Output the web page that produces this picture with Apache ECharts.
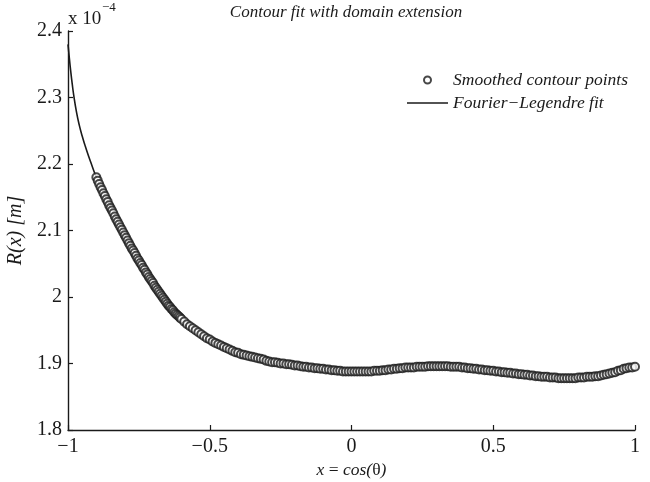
<!DOCTYPE html>
<html>
<head>
<meta charset="utf-8">
<script src="https://cdn.jsdelivr.net/npm/echarts@6/dist/echarts.min.js"></script>
<style>
  html, body { margin: 0; padding: 0; background: #fff; }
  #chart { width: 650px; height: 482px; }
</style>
</head>
<body>
<div id="chart"></div>
<script>
// values in units of 1e-4 m
const contourX = [
  -0.900, -0.895, -0.890, -0.885, -0.880, -0.875, -0.870, -0.865, -0.860, -0.855,
  -0.850, -0.845, -0.840, -0.835, -0.830, -0.825, -0.820, -0.815, -0.810, -0.805,
  -0.800, -0.795, -0.790, -0.785, -0.780, -0.775, -0.770, -0.765, -0.760, -0.755,
  -0.750, -0.745, -0.740, -0.735, -0.730, -0.725, -0.720, -0.715, -0.710, -0.705,
  -0.700, -0.695, -0.690, -0.685, -0.680, -0.675, -0.670, -0.665, -0.660, -0.655,
  -0.650, -0.645, -0.640, -0.635, -0.630, -0.625, -0.620, -0.615, -0.610, -0.605,
  -0.60, -0.59, -0.58, -0.57, -0.56, -0.55, -0.54, -0.53, -0.52, -0.51,
  -0.50, -0.49, -0.48, -0.47, -0.46, -0.45, -0.44, -0.43, -0.42, -0.41,
  -0.40, -0.39, -0.38, -0.37, -0.36, -0.35, -0.34, -0.33, -0.32, -0.31,
  -0.30, -0.29, -0.28, -0.27, -0.26, -0.25, -0.24, -0.23, -0.22, -0.21,
  -0.20, -0.19, -0.18, -0.17, -0.16, -0.15, -0.14, -0.13, -0.12, -0.11,
  -0.10, -0.09, -0.08, -0.07, -0.06, -0.05, -0.04, -0.03, -0.02, -0.01,
  0.00, 0.01, 0.02, 0.03, 0.04, 0.05, 0.06, 0.07, 0.08, 0.09,
  0.10, 0.11, 0.12, 0.13, 0.14, 0.15, 0.16, 0.17, 0.18, 0.19,
  0.20, 0.21, 0.22, 0.23, 0.24, 0.25, 0.26, 0.27, 0.28, 0.29,
  0.30, 0.31, 0.32, 0.33, 0.34, 0.35, 0.36, 0.37, 0.38, 0.39,
  0.40, 0.41, 0.42, 0.43, 0.44, 0.45, 0.46, 0.47, 0.48, 0.49,
  0.50, 0.51, 0.52, 0.53, 0.54, 0.55, 0.56, 0.57, 0.58, 0.59,
  0.60, 0.61, 0.62, 0.63, 0.64, 0.65, 0.66, 0.67, 0.68, 0.69,
  0.70, 0.71, 0.72, 0.73, 0.74, 0.75, 0.76, 0.77, 0.78, 0.79,
  0.80, 0.81, 0.82, 0.83, 0.84, 0.85, 0.86, 0.87, 0.88, 0.89,
  0.90, 0.91, 0.92, 0.93, 0.94, 0.95, 0.96, 0.97, 0.98, 0.99,
  1.00
];
const contourY = [
  2.180, 2.175, 2.170, 2.165, 2.161, 2.156, 2.152, 2.147, 2.143, 2.138,
  2.134, 2.130, 2.126, 2.121, 2.117, 2.113, 2.109, 2.105, 2.101, 2.097,
  2.093, 2.089, 2.085, 2.081, 2.077, 2.073, 2.070, 2.066, 2.062, 2.058,
  2.055, 2.051, 2.048, 2.044, 2.041, 2.037, 2.034, 2.030, 2.027, 2.024,
  2.021, 2.017, 2.014, 2.011, 2.008, 2.005, 2.002, 1.999, 1.996, 1.993,
  1.990, 1.987, 1.985, 1.982, 1.980, 1.977, 1.975, 1.973, 1.971, 1.969,
  1.967, 1.963, 1.959, 1.956, 1.953, 1.950, 1.947, 1.944, 1.941, 1.938,
  1.936, 1.933, 1.931, 1.929, 1.927, 1.925, 1.923, 1.921, 1.919, 1.917,
  1.916, 1.914, 1.913, 1.912, 1.911, 1.910, 1.909, 1.908, 1.907, 1.906,
  1.904, 1.903, 1.902, 1.902, 1.901, 1.900, 1.900, 1.899, 1.899, 1.898,
  1.897, 1.897, 1.896, 1.895, 1.895, 1.894, 1.894, 1.893, 1.893, 1.892,
  1.892, 1.891, 1.891, 1.890, 1.890, 1.889, 1.889, 1.888, 1.888, 1.888,
  1.888, 1.888, 1.888, 1.888, 1.888, 1.888, 1.888, 1.888, 1.889, 1.889,
  1.889, 1.890, 1.890, 1.891, 1.891, 1.892, 1.892, 1.893, 1.893, 1.894,
  1.894, 1.894, 1.894, 1.895, 1.895, 1.895, 1.895, 1.896, 1.896, 1.896,
  1.896, 1.896, 1.896, 1.896, 1.896, 1.895, 1.895, 1.895, 1.895, 1.894,
  1.894, 1.893, 1.893, 1.892, 1.892, 1.891, 1.891, 1.890, 1.890, 1.889,
  1.889, 1.888, 1.888, 1.887, 1.887, 1.886, 1.886, 1.885, 1.885, 1.884,
  1.884, 1.883, 1.883, 1.882, 1.882, 1.881, 1.881, 1.880, 1.880, 1.880,
  1.879, 1.879, 1.879, 1.878, 1.878, 1.878, 1.878, 1.878, 1.878, 1.878,
  1.879, 1.879, 1.879, 1.880, 1.880, 1.880, 1.881, 1.881, 1.882, 1.883,
  1.884, 1.885, 1.886, 1.887, 1.889, 1.890, 1.892, 1.893, 1.894, 1.894,
  1.895
];
const fitX = [
  -1.00, -0.995, -0.99, -0.985, -0.98, -0.97, -0.96, -0.95, -0.94, -0.93,
  -0.92, -0.91, -0.90, -0.85, -0.80, -0.75, -0.70, -0.65, -0.60, -0.55,
  -0.50, -0.45, -0.40, -0.35, -0.30, -0.25, -0.20, -0.15, -0.10, -0.05,
  0.00, 0.05, 0.10, 0.15, 0.20, 0.25, 0.30, 0.35, 0.40, 0.45,
  0.50, 0.55, 0.60, 0.65, 0.70, 0.75, 0.80, 0.85, 0.90, 0.95, 1.00
];
const fitY = [
  2.380, 2.358, 2.338, 2.320, 2.304, 2.278, 2.258, 2.242, 2.228, 2.215,
  2.203, 2.191, 2.180, 2.134, 2.093, 2.055, 2.021, 1.990, 1.967, 1.950,
  1.936, 1.925, 1.916, 1.910, 1.904, 1.900, 1.897, 1.894, 1.892, 1.889,
  1.888, 1.888, 1.889, 1.892, 1.894, 1.895, 1.896, 1.895, 1.894, 1.891,
  1.889, 1.886, 1.884, 1.881, 1.879, 1.878, 1.879, 1.880, 1.884, 1.890, 1.895
];
const xTicks = [-1, -0.5, 0, 0.5, 1];
const yTicks = [1.8, 1.9, 2, 2.1, 2.2, 2.3, 2.4];

const serif = '"Liberation Serif", "DejaVu Serif", serif';
const ink = '#1a1a1a';

const chart = echarts.init(document.getElementById('chart'));

const option = {
  backgroundColor: '#fff',
  animation: false,
  title: {
    text: 'Contour fit with domain extension',
    left: 341,
    textAlign: 'center',
    top: -1,
    textStyle: { fontFamily: serif, fontStyle: 'italic', fontWeight: 'normal', fontSize: 17, color: ink }
  },
  legend: {
    orient: 'vertical',
    left: 402,
    top: 66,
    itemWidth: 41,
    itemHeight: 7,
    itemGap: 5,
    textStyle: { fontFamily: serif, fontStyle: 'italic', fontSize: 17.5, color: ink },
    data: [
      { name: 'Smoothed contour points' },
      { name: 'Fourier\u2212Legendre fit', icon: 'path://M0,0h42v1.6h-42z', itemStyle: { color: ink } }
    ]
  },
  grid: { left: 68, right: 15, top: 31, bottom: 52, outerBoundsMode: 'none', containLabel: false },
  xAxis: {
    type: 'value',
    min: xTicks[0],
    max: xTicks[xTicks.length - 1],
    interval: 0.5,
    name: '{i|x} {n|=} {i|cos(}{n|\u03b8}{i|)}',
    nameLocation: 'middle',
    nameGap: 21,
    nameTextStyle: {
      fontFamily: serif, fontSize: 17.5, color: ink,
      rich: {
        i: { fontFamily: serif, fontStyle: 'italic', fontSize: 17.5, color: ink },
        n: { fontFamily: serif, fontSize: 17.5, color: ink }
      }
    },
    axisLine: { onZero: false, lineStyle: { color: ink, width: 1.4 } },
    axisTick: { inside: true, length: 5, lineStyle: { color: ink, width: 1.2 } },
    axisLabel: {
      margin: 7,
      fontFamily: serif, fontSize: 20, color: ink,
      formatter: v => (v < 0 ? '\u2212' + Math.abs(v) : String(v))
    },
    splitLine: { show: false }
  },
  yAxis: {
    type: 'value',
    min: yTicks[0],
    max: yTicks[yTicks.length - 1],
    interval: 0.1,
    name: 'R(x) [m]',
    nameLocation: 'middle',
    nameRotate: 90,
    nameGap: 33,
    nameTextStyle: { fontFamily: serif, fontStyle: 'italic', fontSize: 20, color: ink },
    axisLine: { show: true, onZero: false, lineStyle: { color: ink, width: 1.4 } },
    axisTick: { show: true, inside: true, length: 5, lineStyle: { color: ink, width: 1.2 } },
    axisLabel: {
      margin: 6,
      fontFamily: serif, fontSize: 20, color: ink,
      formatter: v => String(+v.toFixed(1))
    },
    splitLine: { show: false }
  },
  graphic: [
    {
      type: 'text', left: 68, top: 10,
      style: { text: 'x 10', font: '19px "Liberation Serif", serif', fill: ink }
    },
    {
      type: 'text', left: 102, top: 1,
      style: { text: '\u22124', font: '13px "Liberation Serif", serif', fill: ink }
    }
  ],
  series: [
    {
      name: 'Smoothed contour points',
      type: 'scatter',
      symbol: 'emptyCircle',
      symbolSize: 8,
      itemStyle: { color: ink, borderColor: ink, borderWidth: 1.2 },
      data: contourX.map((x, i) => [x, contourY[i]]),
      z: 3
    },
    {
      name: 'Fourier\u2212Legendre fit',
      type: 'line',
      smooth: true,
      symbol: 'none',
      lineStyle: { color: ink, width: 1.6 },
      itemStyle: { color: ink },
      data: fitX.map((x, i) => [x, fitY[i]]),
      z: 2
    }
  ]
};

chart.setOption(option);
</script>
</body>
</html>
